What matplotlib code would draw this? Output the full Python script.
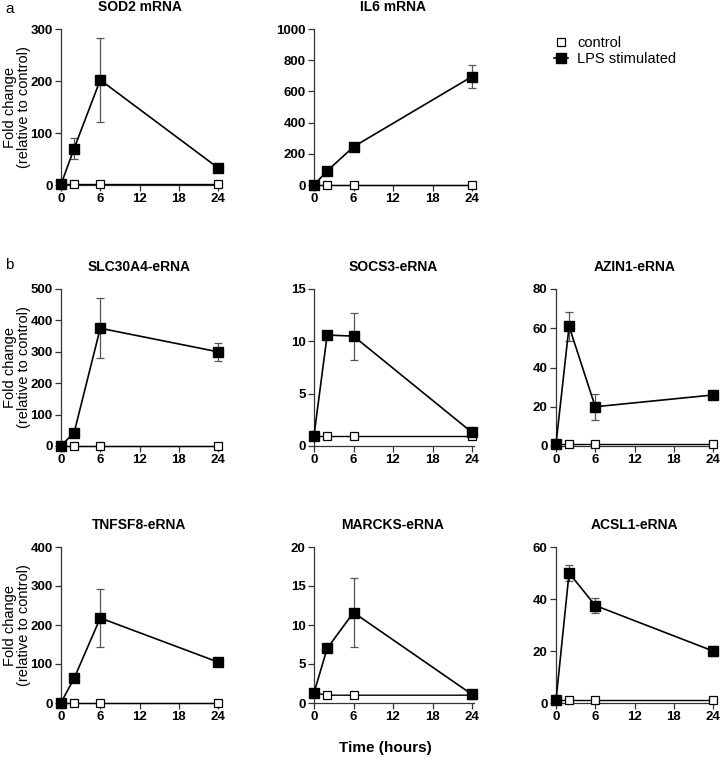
import matplotlib
matplotlib.use("Agg")
import matplotlib.pyplot as plt
from matplotlib.lines import Line2D

plt.rcParams['font.family'] = ['Liberation Sans', 'DejaVu Sans']

time_h = [0, 2, 6, 24]
x_ticks = [0, 6, 12, 18, 24]

titles = ["SOD2 mRNA", "IL6 mRNA", "SLC30A4-eRNA", "SOCS3-eRNA", "AZIN1-eRNA",
          "TNFSF8-eRNA", "MARCKS-eRNA", "ACSL1-eRNA"]

lps_sod2 = [1, 70, 202, 33];      err_sod2 = [0, 20, 80, 5];     ctl_sod2 = [1, 1, 1, 1]
lps_il6 = [1, 90, 245, 695];      err_il6 = [0, 10, 20, 76];     ctl_il6 = [1, 1, 1, 1]
lps_slc = [1, 42, 375, 300];      err_slc = [0, 5, 95, 28];      ctl_slc = [1, 1, 1, 1]
lps_socs3 = [1, 10.6, 10.5, 1.3]; err_socs3 = [0, 0.3, 2.25, 0.1]; ctl_socs3 = [1, 1, 1, 1]
lps_azin1 = [1, 61, 20, 26];      err_azin1 = [0, 7.5, 6.5, 1];  ctl_azin1 = [1, 1, 1, 1]
lps_tnfsf8 = [1, 63, 218, 105];   err_tnfsf8 = [0, 5, 74, 5];    ctl_tnfsf8 = [1, 1, 1, 1]
lps_marcks = [1.3, 7, 11.6, 1.1]; err_marcks = [0.2, 0.2, 4.4, 0.1]; ctl_marcks = [1.3, 1.0, 1.0, 1.0]
lps_acsl1 = [1, 50, 37.5, 20];    err_acsl1 = [0, 3, 2.8, 2];    ctl_acsl1 = [1, 1, 1, 1]

y_maxes = [300, 1000, 500, 15, 80, 400, 20, 60]
y_steps = [100, 200, 100, 5, 20, 100, 5, 20]

lps_all = [lps_sod2, lps_il6, lps_slc, lps_socs3, lps_azin1, lps_tnfsf8, lps_marcks, lps_acsl1]
err_all = [err_sod2, err_il6, err_slc, err_socs3, err_azin1, err_tnfsf8, err_marcks, err_acsl1]
ctl_all = [ctl_sod2, ctl_il6, ctl_slc, ctl_socs3, ctl_azin1, ctl_tnfsf8, ctl_marcks, ctl_acsl1]

W, H = 721, 762
fig = plt.figure(figsize=(W / 100, H / 100), dpi=100)

# pixel layout: (x at 0, x at 24, y at 0, y at top)
cols = [(61, 218), (314, 472), (556, 713)]
rows = [(185, 29), (446, 289), (703, 547)]
slots = [(0, 0), (0, 1), (1, 0), (1, 1), (1, 2), (2, 0), (2, 1), (2, 2)]

XMAX = 24.3
for i, (r, c) in enumerate(slots):
    x0, x24 = cols[c]
    y0, yt = rows[r]
    w = (x24 - x0) * XMAX / 24
    ax = fig.add_axes([x0 / W, (H - y0) / H, w / W, (y0 - yt) / H])
    ax.plot(time_h, ctl_all[i], color='black', lw=1.0, marker='s', ms=5.5,
            mfc='white', mec='black', mew=0.9, clip_on=False, zorder=3)
    ax.errorbar(time_h, lps_all[i], yerr=err_all[i], fmt='none', ecolor='#555555',
                elinewidth=0.9, capsize=3, capthick=0.9, clip_on=False, zorder=2)
    ax.plot(time_h, lps_all[i], color='black', lw=1.2, marker='s', ms=7,
            mfc='black', mec='black', clip_on=False, zorder=4)
    ax.set_xlim(0, XMAX)
    ax.set_ylim(0, y_maxes[i])
    ax.set_xticks(x_ticks)
    yt_vals = list(range(0, y_maxes[i] + 1, y_steps[i]))
    ax.set_yticks(yt_vals)
    for s in ['top', 'right']:
        ax.spines[s].set_visible(False)
    for s in ['left', 'bottom']:
        ax.spines[s].set_linewidth(0.9)
        ax.spines[s].set_color('#333333')
    ax.tick_params(direction='out', length=4, width=0.9, color='#333333',
                   labelsize=9.5, pad=2)
    for lab in ax.get_xticklabels() + ax.get_yticklabels():
        lab.set_fontweight('bold')
    fig.text(((x0 + x24) / 2) / W, 1 - (yt - 22) / H, titles[i], ha='center',
             va='center', fontsize=10, fontweight='bold')

# y labels
for r in range(3):
    y0, yt = rows[r]
    yc = 1 - ((y0 + yt) / 2) / H
    fig.text(17 / W, yc, "Fold change\n(relative to control)", rotation=90,
             ha='center', va='center', fontsize=10.5, linespacing=1.05)

fig.text(5 / W, 1 - 9 / H, "a", fontsize=11, ha='left', va='center')
fig.text(5 / W, 1 - 265 / H, "b", fontsize=11, ha='left', va='center')
fig.text(385 / W, 1 - 748 / H, "Time (hours)", fontsize=11, fontweight='bold',
         ha='center', va='center')

handles = [Line2D([], [], color='none', marker='s', ms=6, mfc='white', mec='black', mew=0.9),
           Line2D([], [], color='black', lw=1.2, marker='s', ms=7, mfc='black', mec='black')]
fig.legend(handles, ['control', 'LPS stimulated'], loc='upper left',
           bbox_to_anchor=(548 / W, 1 - 30 / H), frameon=False, fontsize=10.5,
           handlelength=1.0, handletextpad=0.6, labelspacing=0.15, borderaxespad=0)

fig.savefig("out.png", dpi=100)
